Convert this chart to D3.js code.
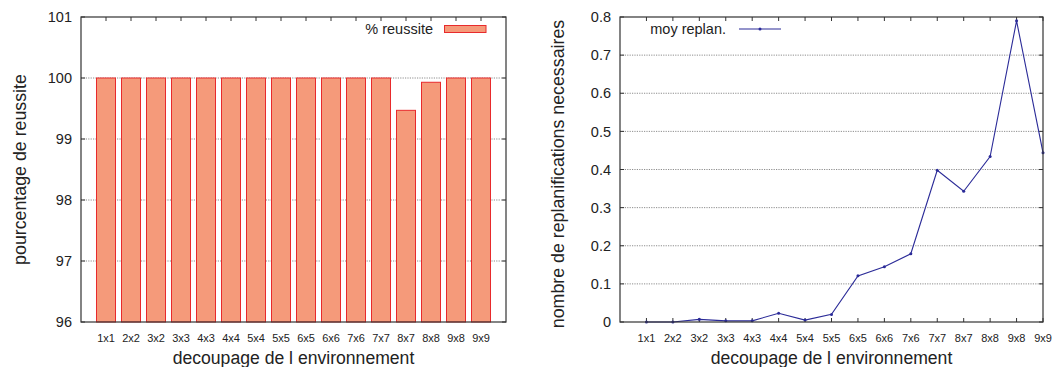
<!DOCTYPE html>
<html><head><meta charset="utf-8">
<script src="https://cdn.jsdelivr.net/npm/d3@7"></script>
<style>
html,body{margin:0;padding:0;background:#fff;}
svg{display:block;font-family:"Liberation Sans",Arial,Helvetica,sans-serif;}
</style></head>
<body>
<svg id="c" width="1053" height="367"></svg>
<script>
const categories = ["1x1","2x2","3x2","3x3","4x3","4x4","5x4","5x5","6x5","6x6","7x6","7x7","8x7","8x8","9x8","9x9"];
const reussite = [100,100,100,100,100,100,100,100,100,100,100,100,99.47,99.93,100,100];
const replan = [0,0,0.007,0.003,0.003,0.023,0.005,0.02,0.121,0.145,0.179,0.398,0.343,0.434,0.790,0.444];
const leftYTicks = [96,97,98,99,100,101];
const rightYTicks = [0,0.1,0.2,0.3,0.4,0.5,0.6,0.7,0.8];
const leftYTitle = "pourcentage de reussite";
const rightYTitle = "nombre de replanifications necessaires";
const xTitle = "decoupage de l environnement";
const leftLegend = "% reussite";
const rightLegend = "moy replan.";

const svg = d3.select("#c");
const TXT = "#222", FRAME = "#333", GRID = "#808080";
const BAR_FILL = "#f59a7a", BAR_STROKE = "#e82a2c", LINE = "#2b2b98";

function frame(g, x0, x1, y0, y1) {
  g.append("rect").attr("x", x0).attr("y", y0).attr("width", x1 - x0).attr("height", y1 - y0)
    .attr("fill", "none").attr("stroke", FRAME).attr("stroke-width", 1.2);
}

function drawPanel(opts) {
  const g = svg.append("g");
  const {x, y, yTicks, yFmt, xTicksIdx} = opts;
  const [x0, x1] = x.range();
  const [y1, y0] = y.range();
  g.selectAll(".grid").data(yTicks.slice(1, -1)).join("line")
    .attr("x1", x0).attr("x2", x1).attr("y1", d => y(d)).attr("y2", d => y(d))
    .attr("stroke", GRID).attr("stroke-width", 0.9).attr("stroke-dasharray", "1.2,1.2");
  g.selectAll(".ytl").data(yTicks).join("line")
    .attr("x1", x0).attr("x2", x0 + 4).attr("y1", d => y(d)).attr("y2", d => y(d))
    .attr("stroke", FRAME);
  g.selectAll(".ytr").data(yTicks).join("line")
    .attr("x1", x1 - 4).attr("x2", x1).attr("y1", d => y(d)).attr("y2", d => y(d))
    .attr("stroke", FRAME);
  g.selectAll(".ylab").data(yTicks).join("text")
    .attr("x", x0 - 9).attr("y", d => y(d)).attr("dy", "0.36em")
    .attr("text-anchor", "end").attr("font-size", 14.5).attr("fill", TXT)
    .text(yFmt);
  g.selectAll(".xtt").data(xTicksIdx).join("line")
    .attr("x1", d => x(d)).attr("x2", d => x(d)).attr("y1", y0).attr("y2", y0 + 4)
    .attr("stroke", FRAME);
  g.selectAll(".xtb").data(xTicksIdx).join("line")
    .attr("x1", d => x(d)).attr("x2", d => x(d)).attr("y1", y1).attr("y2", y1 - 4)
    .attr("stroke", FRAME);
  g.selectAll(".xlab").data(xTicksIdx).join("text")
    .attr("x", d => x(d)).attr("y", y1 + 20)
    .attr("text-anchor", "middle").attr("font-size", 11).attr("fill", TXT)
    .text(d => categories[d]);
  g.append("text").attr("x", (x0 + x1) / 2).attr("y", 364)
    .attr("text-anchor", "middle").attr("font-size", 17.6).attr("fill", TXT).text(xTitle);
  g.append("text").attr("transform", `translate(${opts.yTitleX},${opts.yTitleY}) rotate(-90)`)
    .attr("text-anchor", "middle").attr("font-size", 17.8).attr("fill", TXT).text(opts.yTitle);
  return g;
}

// ---------- Left panel ----------
const xL = d3.scaleLinear().domain([-1, 16]).range([81, 506]);
const yL = d3.scaleLinear().domain([96, 101]).range([322, 17]);
const idx = categories.map((c, i) => i);
const gL = drawPanel({x: xL, y: yL, yTicks: leftYTicks, yFmt: d => d3.format("d")(d), xTicksIdx: idx,
  yTitle: leftYTitle, yTitleX: 26, yTitleY: 169.5});
const bw = xL(0.38) - xL(-0.38);
gL.selectAll(".bar").data(reussite).join("rect")
  .attr("x", (d, i) => xL(i) - bw / 2).attr("width", bw)
  .attr("y", d => yL(d)).attr("height", d => yL(96) - yL(d))
  .attr("fill", BAR_FILL).attr("stroke", BAR_STROKE).attr("stroke-width", 1);
frame(gL, 81, 506, 17, 322);
gL.append("text").attr("x", 433).attr("y", 34).attr("text-anchor", "end")
  .attr("font-size", 14.5).attr("fill", TXT).text(leftLegend);
gL.append("rect").attr("x", 444.5).attr("y", 25.5).attr("width", 41.5).attr("height", 7)
  .attr("fill", BAR_FILL).attr("stroke", BAR_STROKE).attr("stroke-width", 1);

// ---------- Right panel ----------
const xR = d3.scaleLinear().domain([-1, 15]).range([620, 1043]);
const yR = d3.scaleLinear().domain([0, 0.8]).range([322, 17]);
const gR = drawPanel({x: xR, y: yR, yTicks: rightYTicks, yFmt: d => d === 0 ? "0" : d3.format(".1f")(d), xTicksIdx: idx,
  yTitle: rightYTitle, yTitleX: 564, yTitleY: 174});
const line = d3.line().x((d, i) => xR(i)).y(d => yR(d));
gR.append("path").datum(replan).attr("d", line)
  .attr("fill", "none").attr("stroke", LINE).attr("stroke-width", 1.1);
gR.selectAll(".pt").data(replan).join("circle")
  .attr("cx", (d, i) => xR(i)).attr("cy", d => yR(d)).attr("r", 1.5).attr("fill", LINE);
frame(gR, 620, 1043, 17, 322);
gR.append("text").attr("x", 726).attr("y", 34).attr("text-anchor", "end")
  .attr("font-size", 14.5).attr("fill", TXT).text(rightLegend);
gR.append("line").attr("x1", 739).attr("x2", 781).attr("y1", 29).attr("y2", 29)
  .attr("stroke", LINE).attr("stroke-width", 1.1);
gR.append("circle").attr("cx", 760).attr("cy", 29).attr("r", 1.5).attr("fill", LINE);
</script>
</body></html>
